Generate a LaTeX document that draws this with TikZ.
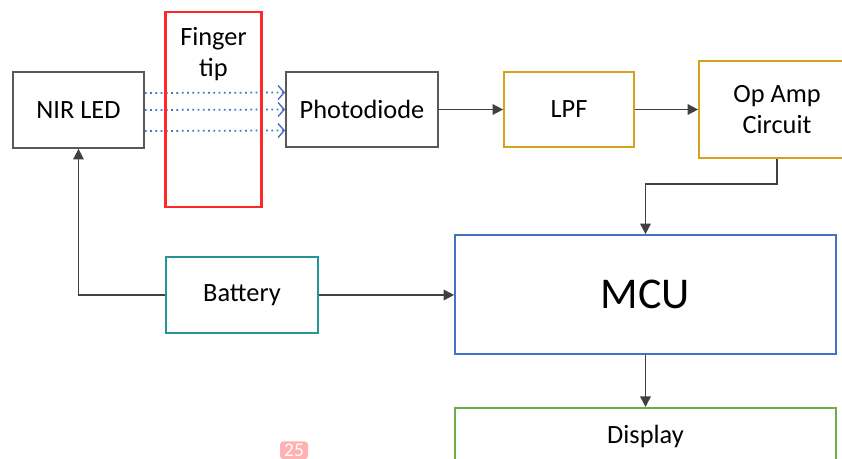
\documentclass[tikz,border=0pt]{standalone}
\usepackage{fontspec}
\setmainfont{Carlito}
\usepackage{xcolor}
\usetikzlibrary{arrows.meta, positioning, calc}

\definecolor{boxgray}{RGB}{89,89,89}
\definecolor{linegray}{RGB}{64,64,64}
\definecolor{fingerred}{RGB}{255,40,40}
\definecolor{lpfgold}{RGB}{214,162,30}
\definecolor{batteal}{RGB}{36,150,150}
\definecolor{mcublue}{RGB}{68,114,196}
\definecolor{dispgreen}{RGB}{112,173,71}

\begin{document}
\begin{tikzpicture}[
  x=0.02cm, y=-0.02cm,
  box/.style={rectangle, draw=boxgray, line width=1pt, inner sep=0pt, align=center, font=\fontsize{15}{18}\selectfont},
  arrow/.style={-{Triangle[length=6pt, width=6pt]}, draw=linegray, line width=0.9pt},
  ray/.style={-{Straight Barb[length=3.5pt, width=8pt, line width=0.8pt]}, draw=mcublue, dotted, line width=1pt},
]
  \clip (0,0) rectangle (842,459);

  % top row
  \node[box, minimum width=2.62cm, minimum height=1.52cm] (nir) at (78.5,110) {NIR LED};
  \node[box, minimum width=3.04cm, minimum height=1.5cm] (photo) at (362,109.5) {Photodiode};
  \node[box, draw=lpfgold, minimum width=2.6cm, minimum height=1.5cm] (lpf) at (569,109.5) {LPF};
  \node[box, draw=lpfgold, minimum width=3.12cm, minimum height=1.94cm] (opamp) at (777,109.5) {Op Amp\\Circuit};

  % light through the finger
  \foreach \dy in {-17,0,21}
    \draw[ray] ($(nir.east)+(0,\dy)$) -- ($(photo.west)+(0,\dy)$);

  \node[box, draw=fingerred, line width=1.2pt, minimum width=1.92cm, minimum height=3.9cm] (finger) at (213.5,109.5) {};
  \node[font=\fontsize{15}{18}\selectfont, align=center, below=0.2cm of finger.north] (fingertxt) {Finger\\tip};

  % lower part
  \node[box, draw=batteal, minimum width=3.04cm, minimum height=1.52cm] (battery) at (242,295) {Battery};
  \node[box, draw=mcublue, minimum width=7.62cm, minimum height=2.38cm, font=\fontsize{25}{30}\selectfont] (mcu) at (645.5,294.5) {MCU};
  \node[box, draw=dispgreen, minimum width=7.62cm, minimum height=1.26cm, anchor=north] (disp) at (645.5,407) {};
  \node[font=\fontsize{15}{18}\selectfont, below=0.24cm of disp.north] (disptxt) {Display};

  % page number
  \node[fill=red!30, text=white, rounded corners=2pt, inner sep=1.5pt, minimum width=0.56cm, font=\fontsize{11}{12}\selectfont, anchor=north] (pagenum) at (294,441) {25};

  \draw[arrow] (photo) -- (lpf);
  \draw[arrow] (lpf) -- (opamp);
  \draw[arrow] (opamp.south) -- ++(0,25) -| (mcu.north);
  \draw[arrow] (mcu) -- (disp);
  \draw[arrow] (battery.east) -- (battery.east -| mcu.west);
  \draw[arrow] (battery.west) -| (nir.south);
\end{tikzpicture}
\end{document}
